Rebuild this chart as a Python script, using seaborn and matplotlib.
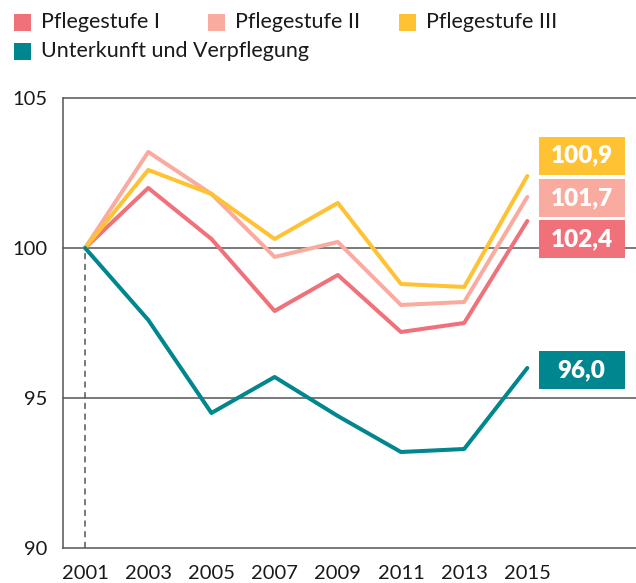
import pandas as pd
import matplotlib.pyplot as plt
import seaborn as sns
from matplotlib.patches import Rectangle

# ==========================================
# Data (index, 2001 = 100)
# ==========================================
years = [2001, 2003, 2005, 2007, 2009, 2011, 2013, 2015]
stufe_1 = [100, 102.0, 100.3, 97.9, 99.1, 97.2, 97.5, 100.9]
stufe_2 = [100, 103.2, 101.8, 99.7, 100.2, 98.1, 98.2, 101.7]
stufe_3 = [100, 102.6, 101.8, 100.3, 101.5, 98.8, 98.7, 102.4]
unterkunft = [100, 97.6, 94.5, 95.7, 94.4, 93.2, 93.3, 96.0]

series_names = ['Pflegestufe I', 'Pflegestufe II', 'Pflegestufe III',
                'Unterkunft und Verpflegung']
end_labels = ['102,4', '101,7', '100,9', '96,0']  # printed in the boxes
y_ticks = [90, 95, 100, 105]
colors = ['#F0717A', '#F9ABA0', '#FEC233', '#00868F']

df = pd.DataFrame({'Jahr': years * 4,
                   'Wert': stufe_1 + stufe_2 + stufe_3 + unterkunft,
                   'Serie': [n for n in series_names for _ in years]})

# ==========================================
# Plot
# ==========================================
sns.set_style('white')
plt.rcParams['font.family'] = ['Lato', 'DejaVu Sans']

fig = plt.figure(figsize=(6.36, 5.83), dpi=100)
ax = fig.add_axes([0.099, 0.060, 0.901, 0.772])

axis_col = '#555555'
for y in [95, 100, 105]:
    ax.axhline(y, color=axis_col, lw=1.1, zorder=1, clip_on=False)
ax.plot([2001, 2001], [90, 100], color=axis_col, lw=1.1, ls=(0, (4, 3)), zorder=1)

sns.lineplot(data=df, x='Jahr', y='Wert', hue='Serie', palette=colors,
             hue_order=series_names, lw=2.9, legend=False, ax=ax, zorder=3)

ax.set_xlim(2000.3, 2018.44)
ax.set_ylim(90, 105)
ax.set_xticks(years)
ax.set_yticks(y_ticks)
ax.set_xlabel('')
ax.set_ylabel('')
ax.tick_params(axis='x', direction='in', length=12.5, width=1, color='#333333',
               labelsize=14.5, pad=12, labelcolor='#1a1a1a')
ax.tick_params(axis='y', length=0, labelsize=14.5, pad=11, labelcolor='#1a1a1a')
for s in ['top', 'right']:
    ax.spines[s].set_visible(False)
for s in ['left', 'bottom']:
    ax.spines[s].set_color(axis_col)
    ax.spines[s].set_linewidth(1.1)

# end-value boxes (yellow, pink, red, teal from top to bottom)
box_order = [2, 1, 0, 3]
box_y = [103.08, 101.66, 100.29, 95.92]
for i, yc in zip(box_order, box_y):
    ax.add_patch(Rectangle((2015.36, yc - 0.635), 2.72, 1.27, facecolor=colors[i],
                           edgecolor='none', clip_on=False, zorder=4))
    ax.text(2016.72, yc, end_labels[i], ha='center', va='center', color='white',
            fontsize=17.5, fontweight='heavy', zorder=5)

# legend drawn by hand (two rows)
W, H = 636, 583
legend_items = [(14, 22, 0), (208, 22, 1), (399, 22, 2), (14, 51, 3)]
for x, y, i in legend_items:
    fig.patches.append(Rectangle((x / W, (H - y - 8.5) / H), 17 / W, 17 / H,
                                 transform=fig.transFigure, facecolor=colors[i],
                                 edgecolor='none'))
    fig.text((x + 27) / W, (H - y) / H, series_names[i], ha='left', va='center',
             fontsize=15.5, color='#1a1a1a')

fig.savefig('out.png', dpi=100)
